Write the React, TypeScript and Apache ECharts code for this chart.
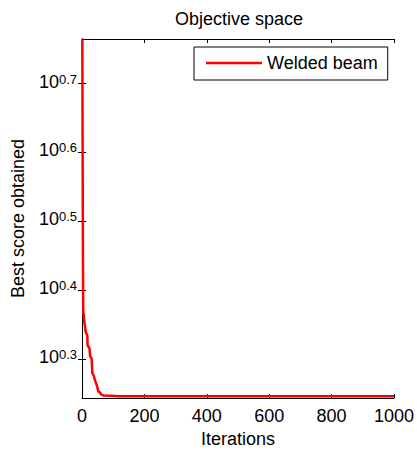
import React, { useEffect, useRef } from "react";
import * as echarts from "echarts";

const iterations = [1, 2, 3, 4, 5, 8, 12, 17, 18, 24, 26, 31, 33, 38, 42, 48, 52, 58, 62, 70, 110, 115, 1000];
const scores = [5.821, 3.981, 2.818, 2.333, 2.317, 2.249, 2.183, 2.158, 2.089, 2.065, 2.014, 1.995, 1.905, 1.884, 1.854, 1.824, 1.791, 1.782, 1.77, 1.765, 1.762, 1.76, 1.76];
const xTicks = [0, 200, 400, 600, 800, 1000];
const yTickExponents = [0.3, 0.4, 0.5, 0.6, 0.7];
const seriesName = "Welded beam";
const titleText = "Objective space";
const xName = "Iterations";
const yName = "Best score obtained";

const FONT = "'Liberation Sans', Arial, Helvetica, sans-serif";

export default function App() {
  const ref = useRef<HTMLDivElement>(null);
  useEffect(() => {
    if (!ref.current) return;
    const chart = echarts.init(ref.current, undefined, { renderer: "svg" });
    const data = iterations.map((it, i) => [it, Math.log10(scores[i])]);
    const yMin = 0.243;
    const yMax = 0.7648;
    const tickCommon = { show: true, inside: true, length: 4, lineStyle: { color: "#000", width: 1 } };
    const lineCommon = { show: true, lineStyle: { color: "#000", width: 1 } };
    chart.setOption({
      animation: false,
      backgroundColor: "#fff",
      title: {
        text: titleText,
        left: 239,
        top: 10,
        textAlign: "center",
        padding: 0,
        textStyle: { fontFamily: FONT, fontSize: 18, fontWeight: "normal", color: "#000", lineHeight: 18 },
      },
      legend: {
        left: 194,
        top: 47,
        data: [seriesName],
        icon: "rect",
        itemWidth: 56,
        itemHeight: 2.5,
        itemGap: 0,
        padding: [7, 10, 8, 12],
        borderColor: "#000",
        borderWidth: 1,
        backgroundColor: "#fff",
        textStyle: { fontFamily: FONT, fontSize: 18, color: "#000", lineHeight: 18, padding: [0, 0, 0, 0] },
        selectedMode: false,
      },
      grid: { left: 82, top: 39, right: 21, bottom: 54, containLabel: false },
      xAxis: [
        {
          type: "value",
          min: xTicks[0],
          max: xTicks[xTicks.length - 1],
          interval: 200,
          name: xName,
          nameLocation: "middle",
          nameGap: 31,
          nameTextStyle: { fontFamily: FONT, fontSize: 18, color: "#000", lineHeight: 18 },
          axisLine: lineCommon,
          axisTick: tickCommon,
          splitLine: { show: false },
          axisLabel: {
            fontFamily: FONT,
            fontSize: 18,
            color: "#000",
            margin: 9,
            lineHeight: 18,
            showMaxLabel: true,
            showMinLabel: true,
            formatter: (v: number) => String(v),
          },
        },
        {
          type: "value",
          position: "top",
          min: xTicks[0],
          max: xTicks[xTicks.length - 1],
          interval: 200,
          axisLine: lineCommon,
          axisTick: tickCommon,
          splitLine: { show: false },
          axisLabel: { show: false },
        },
      ],
      yAxis: [
        {
          type: "value",
          min: yMin,
          max: yMax,
          name: yName,
          nameLocation: "middle",
          nameGap: 55,
          nameTextStyle: { fontFamily: FONT, fontSize: 18, color: "#000", lineHeight: 18 },
          axisLine: lineCommon,
          axisTick: { ...tickCommon, customValues: yTickExponents },
          splitLine: { show: false },
          axisLabel: {
            customValues: yTickExponents,
            margin: 5,
            padding: [0, 0, 4, 0],
            formatter: (v: number) => `{b|10}{s|${v.toFixed(1)}}`,
            rich: {
              b: { fontFamily: FONT, fontSize: 18, lineHeight: 18, color: "#000", verticalAlign: "bottom", padding: [7, 0, 0, 0] },
              s: { fontFamily: FONT, fontSize: 13, lineHeight: 13, color: "#000", verticalAlign: "top" },
            },
          },
        },
        {
          type: "value",
          position: "right",
          min: yMin,
          max: yMax,
          axisLine: lineCommon,
          axisTick: { ...tickCommon, customValues: yTickExponents },
          splitLine: { show: false },
          axisLabel: { show: false, customValues: yTickExponents },
        },
      ],
      series: [
        {
          name: seriesName,
          type: "line",
          data,
          showSymbol: false,
          symbol: "none",
          lineStyle: { color: "#ff0000", width: 2.5 },
          itemStyle: { color: "#ff0000" },
          z: 1,
        },
      ],
    });
    return () => chart.dispose();
  }, []);
  return <div ref={ref} style={{ position: "fixed", left: 0, top: 0, width: 417, height: 453 }} />;
}
